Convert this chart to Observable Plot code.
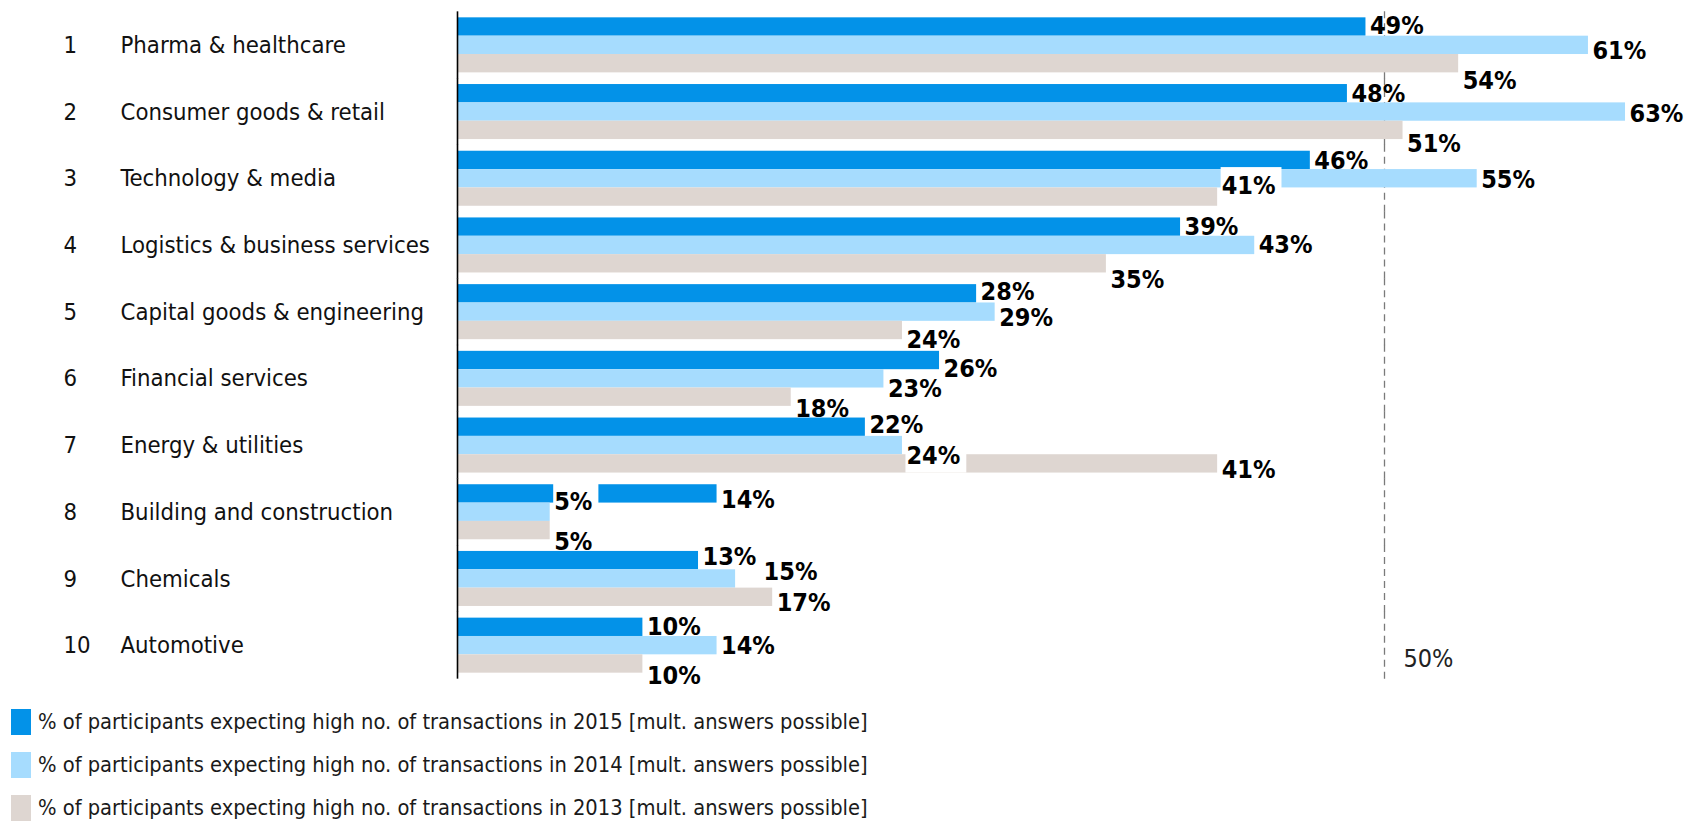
<!DOCTYPE html>
<html>
<head>
<meta charset="utf-8">
<script src="https://cdn.jsdelivr.net/npm/d3@7"></script>
<script src="https://cdn.jsdelivr.net/npm/@observablehq/plot@0.6"></script>
<style>
  html, body { margin: 0; padding: 0; background: #fff; overflow: hidden; }
  body { font-family: "Liberation Sans Narrow", "Arial Narrow", "DejaVu Sans Condensed", sans-serif; }
  #chart svg { display: block; }
  #legend { margin-top: 0; }
  .row { display: flex; align-items: center; height: 43px; }
  .sw { width: 20px; height: 26px; margin-left: 11px; margin-right: 7px; flex: none; }
  .lbl { font-size: 21.7px; color: #1a1a1a; white-space: nowrap; }
</style>
</head>
<body>
<div id="chart"></div>
<div id="legend"></div>
<script>
// ---- data ----
const ranks = [1, 2, 3, 4, 5, 6, 7, 8, 9, 10];
const categories = [
  "Pharma & healthcare",
  "Consumer goods & retail",
  "Technology & media",
  "Logistics & business services",
  "Capital goods & engineering",
  "Financial services",
  "Energy & utilities",
  "Building and construction",
  "Chemicals",
  "Automotive"
];
const years = ["2015", "2014", "2013"];
const v2015 = [49, 48, 46, 39, 28, 26, 22, 14, 13, 10];
const v2014 = [61, 63, 55, 43, 29, 23, 24, 5, 15, 14];
const v2013 = [54, 51, 41, 35, 24, 18, 41, 5, 17, 10];
const referenceLine = 50;
const legendLabels = [
  "% of participants expecting high no. of transactions in 2015 [mult. answers possible]",
  "% of participants expecting high no. of transactions in 2014 [mult. answers possible]",
  "% of participants expecting high no. of transactions in 2013 [mult. answers possible]"
];

// ---- styling / layout (not data) ----
const colors = ["#0392E8", "#A6DCFE", "#DED6D1"];
// vertical nudge (px) of each value label, per category: [2015, 2014, 2013]
const labelNudge = [
  [-1, 6, 17], [0, 2, 14], [1, 1, -11], [0, 0, 16], [-2, 6, 10],
  [8, 10, 12], [-2, 10, 6], [6, -10, 11], [-4, -7, 6], [0, 0, 12]
];
// extra horizontal nudge (px) for individual labels
const labelShift = [["Chemicals", "2014", 24]];
// labels drawn on a white box (as in the original)
const boxedLabels = [["Technology & media", "2013"], ["Energy & utilities", "2014"], ["Building and construction", "2014"]];
const BOXED_FILL = "#010101"; // marker colour used to find the boxed labels

const series = [v2015, v2014, v2013];
const rows = categories.flatMap((c, i) => years.map((yr, j) => {
  const s = labelShift.find(([sc, sy]) => sc === c && sy === yr);
  return {
    category: c, year: yr, value: series[j][i], nudge: labelNudge[i][j],
    shift: s ? s[2] : 0,
    boxed: boxedLabels.some(([bc, by]) => bc === c && by === yr)
  };
}));
const cats = categories.map((c, i) => ({category: c, rank: ranks[i]}));

const fontNarrow = '"Liberation Sans Narrow", "Arial Narrow", "DejaVu Sans Condensed", sans-serif';

// group labels by nudge/shift/box so each group can use constant dx/dy
const groups = d3.groups(rows, d => d.nudge + "|" + d.shift + "|" + d.boxed);
const labelMarks = groups.map(([key, data]) => Plot.text(data, {
  x: "value", y: "year", fy: "category",
  text: d => d.value + "%",
  dx: 4 + data[0].shift, dy: data[0].nudge,
  textAnchor: "start",
  fontWeight: "bold", fontSize: 25,
  fill: data[0].boxed ? BOXED_FILL : "#000"
}));

const chart = Plot.plot({
  width: 1697,
  height: 700,
  marginLeft: 457,
  marginRight: 1697 - 457 - 70 * 18.54,
  marginTop: 13,
  marginBottom: 23,
  style: {fontFamily: fontNarrow, background: "#fff", overflow: "visible"},
  x: {domain: [0, 70], axis: null},
  y: {domain: years, axis: null, padding: 0, round: false},
  fy: {domain: categories, axis: null, paddingInner: 0.175, paddingOuter: 0.065, round: false},
  color: {domain: years, range: colors},
  marks: [
    Plot.ruleX([referenceLine], {stroke: "#7a7a7a", strokeWidth: 1.3, strokeDasharray: "7,5", insetTop: -6, insetBottom: -6}),
    Plot.barX(rows, {x: "value", y: "year", fy: "category", fill: "year"}),
    Plot.ruleX([0], {stroke: "#000", strokeWidth: 1.6, insetTop: -6, insetBottom: -6}),
    ...labelMarks,
    Plot.text([{category: categories[categories.length - 1], v: referenceLine}], {
      x: "v", fy: "category", text: d => d.v + "%", dx: 19, dy: 13,
      textAnchor: "start", fontSize: 25, fill: "#222"
    }),
    Plot.text(cats, {fy: "category", text: d => String(d.rank), frameAnchor: "left", dx: -394, textAnchor: "start", fontSize: 23.7, fill: "#111"}),
    Plot.text(cats, {fy: "category", text: "category", frameAnchor: "left", dx: -337, textAnchor: "start", fontSize: 23.7, fill: "#111"})
  ]
});
document.getElementById("chart").appendChild(chart);

// white boxes behind the boxed labels
chart.querySelectorAll("text").forEach(function(el) {
  const f = (el.getAttribute("fill") || el.parentNode.getAttribute("fill") ||
             (el.parentNode.parentNode && el.parentNode.parentNode.getAttribute && el.parentNode.parentNode.getAttribute("fill")) || "").toLowerCase();
  if (f !== BOXED_FILL) return;
  const bb = el.getBBox();
  const rect = document.createElementNS("http://www.w3.org/2000/svg", "rect");
  rect.setAttribute("x", bb.x - 1);
  rect.setAttribute("y", bb.y - 4);
  rect.setAttribute("width", bb.width + 7);
  rect.setAttribute("height", bb.height + 7);
  rect.setAttribute("fill", "#fff");
  const t = el.getAttribute("transform");
  if (t) rect.setAttribute("transform", t);
  el.parentNode.insertBefore(rect, el);
});

// legend
const legend = d3.select("#legend");
years.forEach((yr, j) => {
  const row = legend.append("div").attr("class", "row");
  row.append("div").attr("class", "sw").style("background", colors[j]);
  row.append("div").attr("class", "lbl").text(legendLabels[j]);
});
</script>
</body>
</html>
